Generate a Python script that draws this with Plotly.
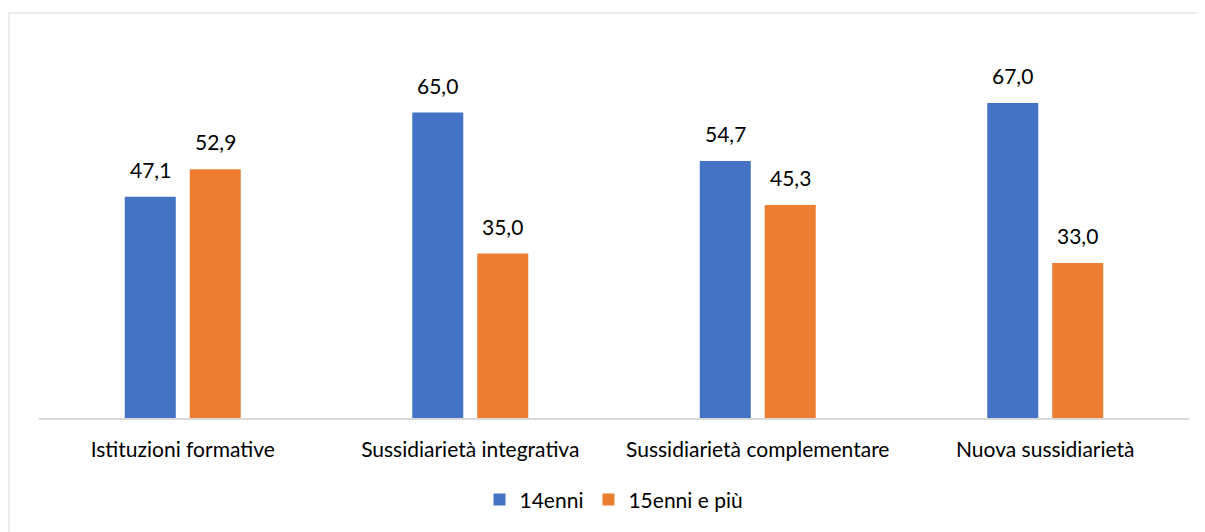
import plotly.graph_objects as go

categories = ["Istituzioni formative", "Sussidiarietà integrativa",
              "Sussidiarietà complementare", "Nuova sussidiarietà"]
series_names = ["14enni", "15enni e più"]
values_14 = [47.1, 65.0, 54.7, 67.0]
values_15 = [52.9, 35.0, 45.3, 33.0]

colors = ["#4472C4", "#ED7D31"]
FONT = "Lato"
FS = 21

fig = go.Figure()
for name, vals, col in zip(series_names, [values_14, values_15], colors):
    fig.add_trace(go.Bar(x=categories, y=vals, name=name, marker_color=col,
                         marker_line_width=0, hoverinfo="skip"))

annotations = []
for vals, shift in zip([values_14, values_15], [-32.5, 32.5]):
    for c, v in zip(categories, vals):
        annotations.append(dict(x=c, y=v, xref="x", yref="y",
                                text=f"{v:.1f}".replace(".", ","),
                                showarrow=False, xshift=shift, yshift=13,
                                yanchor="bottom",
                                font=dict(family=FONT, size=FS, color="#000000")))

# page body has an 8px margin; figure sized to fit the window
fig.update_layout(
    width=1197, height=524,
    margin=dict(l=31, r=16, t=34, b=114),
    paper_bgcolor="white", plot_bgcolor="white",
    barmode="group", bargap=0.548, bargroupgap=0.215,
    font=dict(family=FONT, size=FS, color="#000000"),
    annotations=annotations,
    showlegend=True,
    legend=dict(orientation="h", x=0.5, xanchor="center", y=-0.218,
                yanchor="middle", font=dict(family=FONT, size=FS),
                itemsizing="constant", traceorder="normal"),
    xaxis=dict(showline=True, linecolor="#D9D9D9", linewidth=1.5,
               ticks="outside", ticklen=12, tickcolor="rgba(0,0,0,0)",
               tickfont=dict(family=FONT, size=FS), showgrid=False,
               fixedrange=True),
    yaxis=dict(range=[0, 80], visible=False, showgrid=False, fixedrange=True),
    shapes=[dict(type="rect", xref="paper", yref="paper",
                 x0=(1 - 31) / 1150, x1=(1215 - 31) / 1150,
                 y0=(410 - 545) / 376, y1=(410 - 5) / 376,
                 line=dict(color="#D9D9D9", width=1), layer="below")],
)

fig.write_html("out.html")
